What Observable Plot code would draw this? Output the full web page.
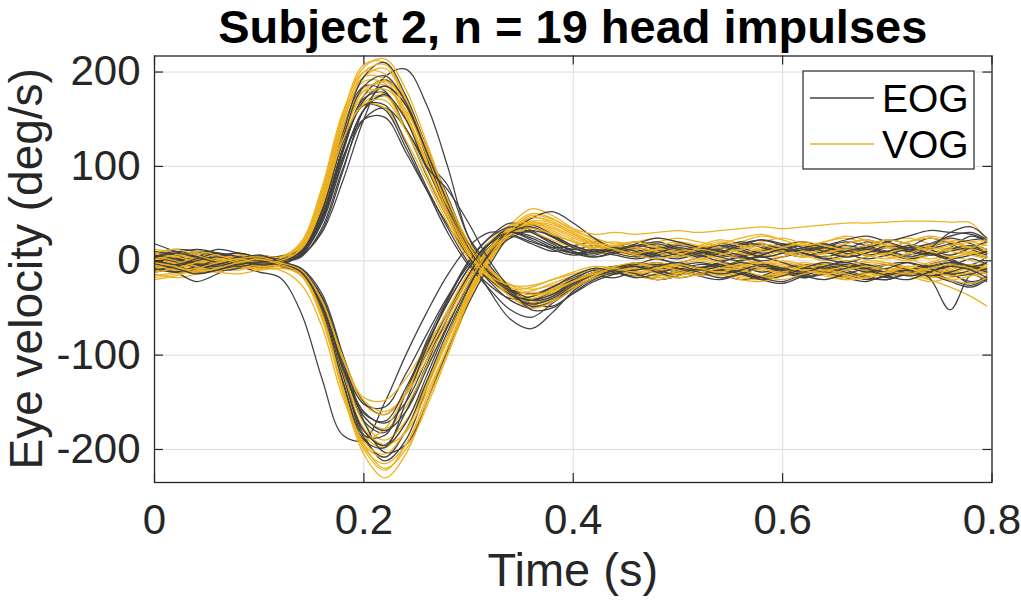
<!DOCTYPE html>
<html><head><meta charset="utf-8">
<script src="https://cdn.jsdelivr.net/npm/d3@7"></script>
<script src="https://cdn.jsdelivr.net/npm/@observablehq/plot@0.6"></script>
<style>
body{margin:0;background:#fff;}
#chart{width:1021px;height:605px;}
</style></head><body><div id="chart"></div>
<script>
// Time samples (s)
const time = [0,0.02,0.04,0.06,0.08,0.1,0.12,0.14,0.16,0.18,0.2,0.22,0.24,0.26,0.28,0.3,0.32,0.34,0.36,0.38,0.4,0.42,0.44,0.46,0.48,0.5,0.52,0.54,0.56,0.58,0.6,0.62,0.64,0.66,0.68,0.7,0.72,0.74,0.76,0.78,0.795];

// EOG, impulses giving positive eye velocity (deg/s)
const eogRightward = [
 [2,-4,-2,5,8,3,2, 6,30,85,150,195,203,165,100,25, -10,-32,-42,-35,-22,-12,-8, -12,-16,-10,-4,-6,-12,-18,-14,-6,-4,-10,-16,-20,-12,-8,-14,-22,-18],
 [-5,2,6,1,-4,-2,-2, 8,45,115,175,192,170,120,62,18, -12,-32,-45,-38,-24,-16,-18, -10,-4,-8,-16,-20,-14,-8,-10,-18,-12,-4,-6,-14,-10,-4,-12,-24,-16],
 [8,12,10,2,-2,6,3, 12,62,140,185,180,140,90,45,5, -22,-42,-50,-42,-28,-18,-10, -6,-2,-8,-14,-10,-4,-2,-8,-16,-12,-6,-10,-18,-14,-6,-2,-8,-4],
 [0,-6,-10,-8,-2,2,1, 10,50,120,172,178,140,105,80,25, -5,-30,-45,-48,-35,-22,-14, -8,-12,-6,-2,-6,-14,-18,-10,-4,-8,-16,-12,-4,-2,-10,-6,2,-4],
 [-12,-8,-2,2,-4,-6,-3, 6,40,105,160,175,150,100,52,12, -15,-30,-35,-28,-18,-10,-12, -16,-10,-4,-8,-14,-20,-16,-8,-6,-12,-18,-22,-14,-8,-12,-20,-26,-18],
 [5,0,4,12,8,-2,3, 9,48,118,165,160,120,75,30,-5, -30,-52,-60,-45,-28,-14,-6, -4,-10,-15,-10,-2,-6,-12,-8,-14,-10,-4,-8,-12,-10,-18,-52,-15,-22],
 [-3,4,8,6,-2,-8,-2, 4,35,98,150,162,140,98,55,15, -12,-30,-40,-36,-22,-12,-6, -14,-20,-16,-8,-4,-10,-18,-22,-14,-8,-12,-18,-20,-12,-6,-14,-10,-2],
 [10,6,-2,-4,4,2,-4, 8,44,110,150,152,115,75,38,5, -20,-35,-42,-32,-20,-10,-14, -8,-4,-10,-14,-8,-2,-6,-12,-18,-14,-8,-4,-10,-16,-12,-4,-8,-12],
 [-2,3,-3,-10,-8,2,5, 12,55,135,195,210,175,120,68,18, -10,-32,-42,-38,-24,-14,-8, -2,-6,-12,-8,-2,4,-2,-10,-14,-8,-4,-10,-16,-12,-4,0,-8,-14],
 [4,-1,-6,-2,3,0,0, 5,32,95,160,185,165,110,52,5, -32,-62,-72,-55,-32,-18,-10, -14,-20,-16,-8,-6,-12,-20,-24,-16,-10,-14,-20,-16,-10,-14,-22,-28,-20],
 [-8,-12,-6,0,-2,-6,-1, 10,46,118,170,185,165,115,60,14, -16,-36,-46,-40,-26,-14,-8, -4,2,-4,-10,-6,0,4,-2,-8,-6,0,-4,-10,-14,-8,-2,-6,-12],
 [6,2,-4,-6,0,4,2, 9,52,125,165,165,125,78,35,-2, -26,-40,-38,-28,-16,-8,-12, -18,-14,-8,-12,-18,-14,-6,-10,-16,-20,-14,-8,-4,-10,-16,-12,-6,-10],
 [-1,-4,2,8,4,-3,-1, 11,54,130,185,196,168,115,62,16, -14,-34,-48,-44,-30,-18,-10, -6,-12,-18,-14,-10,-14,-20,-16,-8,-2,-6,-12,-8,-2,-8,-16,-14,-8],
 [3,8,4,-2,-6,-2,1, 7,42,108,160,176,150,100,75,40, 0,-30,-52,-50,-34,-20,-12, -10,-6,-2,-8,-14,-10,-4,-8,-12,-6,-2,-8,-16,-20,-12,-6,-10,-18]
];

// EOG, impulses giving negative eye velocity (deg/s)
const eogLeftward = [
 [-5,-10,-8,-2,-6,-12,-18, -55,-125,-185,-190,-150,-100,-55,-15,15, 30,28,20,14,16,20,14, 8,12,18,14,8,6,12,18,14,8,12,20,16,10,14,20,12,6],
 [3,-2,-8,-6,2,-1,-4, -12,-50,-120,-185,-212,-190,-135,-80,-30, 10,32,38,28,16,10,14, 20,16,10,6,12,18,14,8,4,10,18,22,16,10,16,24,18,12],
 [-8,-3,5,8,2,-6,-3, -10,-45,-115,-180,-195,-160,-110,-60,-15, 18,35,30,20,12,16,10, 14,8,4,10,18,14,8,12,16,10,4,8,14,10,6,14,26,20],
 [18,10,3,-4,-8,-2,-2, -8,-40,-105,-170,-182,-140,-85,-40,0, 25,40,32,20,10,6,12, 8,14,10,4,8,14,18,12,6,10,16,12,8,14,24,18,8,4],
 [-2,4,10,8,0,-5,-6, -14,-48,-112,-160,-172,-150,-105,-60,-18, 12,28,35,25,14,8,10, 16,20,14,8,12,18,22,16,10,14,20,16,10,6,12,18,22,24],
 [-6,-12,-22,-14,-4,-8,-5, -10,-38,-100,-150,-163,-140,-98,-55,-15, 15,30,26,16,8,10,6, 2,6,10,6,0,4,10,14,8,2,6,12,8,2,6,12,16,8],
 [2,8,12,8,-2,0,-3, -8,-35,-100,-170,-203,-195,-150,-95,-45, -5,28,45,52,40,24,12, 6,10,16,12,6,4,10,16,20,14,10,14,20,26,32,30,28,22],
 [9,3,-4,-10,-6,2,0, -10,-52,-128,-185,-185,-140,-90,-45,-8, 20,30,22,12,6,10,16, 12,6,2,8,14,10,4,8,14,18,12,6,10,16,12,6,14,20],
 [-6,-12,-8,2,8,3,-4, -12,-44,-108,-152,-155,-120,-78,-38,-5, 18,26,18,10,12,8,12, 6,2,-2,4,10,6,0,4,10,14,8,2,6,12,8,0,-4,4],
 [0,-5,-12,-10,-2,4,-3, -11,-46,-118,-188,-208,-180,-128,-75,-28, 8,28,30,20,10,4,8, 14,18,12,8,14,20,16,10,14,18,12,16,22,18,14,30,36,24],
 [5,0,-6,-4,2,6,-1, -12,-55,-130,-190,-198,-150,-92,-42,-2, 24,36,30,18,8,4,10, 16,12,6,10,16,12,4,8,14,10,4,8,16,12,6,10,14,8],
 [-10,-6,0,4,0,-4,-5, -13,-47,-112,-165,-180,-160,-115,-68,-25, 6,24,32,26,16,10,14, 10,4,8,14,10,2,6,12,8,2,-2,4,10,14,8,2,6,10],
 [4,10,6,0,-4,0,-4, -12,-50,-122,-180,-196,-172,-122,-70,-24, 10,30,36,26,14,8,12, 18,24,20,14,10,16,22,18,12,16,22,26,20,14,18,26,30,22],
 [-3,-8,-14,-10,-4,-2,-4, -12,-48,-114,-162,-170,-135,-88,-45,-8, 18,30,24,14,8,12,8, 4,8,14,10,4,0,6,12,8,4,10,14,8,4,8,2,-6,-2]
];

// VOG, impulses giving positive eye velocity (deg/s)
const vogRightward = [
 [5,0,-4,-2,4,1,4, 18,75,155,208,210,165,110,55,10, -15,-32,-38,-30,-20,-14,-14, -8,-4,-8,-14,-10,-6,-10,-16,-12,-6,-4,-10,-14,-10,-6,-10,-14,-8],
 [-3,-8,-12,-8,-2,-4,2, 15,68,145,195,204,170,115,58,14, -12,-30,-36,-30,-22,-16,-10, -12,-16,-12,-6,-10,-16,-18,-12,-8,-12,-18,-14,-8,-12,-18,-14,-8,-12],
 [10,8,4,6,4,-2,3, 16,70,148,190,188,150,100,48,6, -18,-35,-40,-34,-24,-14,-8, -6,-10,-14,-10,-4,-6,-12,-8,-2,-6,-10,-6,-2,-8,-12,-8,-4,-8],
 [-16,-12,-6,-8,-4,0,-2, 12,60,138,183,186,155,105,55,10, -16,-38,-48,-42,-30,-18,-10, -6,-10,-14,-10,-6,-10,-16,-12,-8,-10,-16,-12,-8,-14,-20,-28,-38,-48],
 [2,-3,-6,-2,4,2,-1, 14,64,140,180,176,140,92,45,5, -20,-36,-32,-24,-16,-10,-6, -4,-8,-4,0,-4,-10,-6,-2,-6,-12,-8,-2,-4,-10,-8,-2,-6,-10],
 [-8,-6,0,2,-2,-6,-3, 10,52,125,168,175,150,104,55,12, -10,-25,-30,-26,-20,-14,-8, -14,-18,-14,-8,-12,-18,-20,-14,-10,-16,-20,-16,-12,-16,-22,-18,-14,-20],
 [-18,-14,-10,-12,-6,-2,0, 16,72,152,195,192,152,102,52,8, -14,-34,-44,-38,-26,-16,-10, -6,-2,-6,-10,-6,-2,-4,-8,-12,-8,-4,-6,-10,-14,-10,-6,-10,-4],
 [6,4,-2,0,6,3,1, 12,58,130,165,162,128,85,40,2, -18,-30,-28,-20,-14,-8,-10, -14,-10,-6,-10,-16,-12,-8,-4,-8,-14,-18,-14,-8,-10,-16,-20,-16,-12],
 [0,4,8,4,-2,1,3, 15,66,148,200,208,172,118,60,14, -14,-36,-46,-40,-28,-18,-10, -4,-8,-12,-16,-12,-6,-8,-14,-10,-4,-6,-12,-16,-12,-8,-12,-6,-14],
 [-6,-10,-14,-10,-4,-5,0, 12,56,130,180,190,168,120,66,20, -8,-26,-34,-30,-22,-14,-10, -16,-20,-16,-10,-14,-20,-22,-16,-10,-14,-20,-18,-12,-8,-14,-20,-24,-18],
 [12,8,2,-2,2,6,4, 20,78,158,200,198,158,105,52,8, -18,-34,-40,-32,-22,-12,-6, -2,-6,-2,2,-2,-8,-4,0,-4,-10,-6,0,-2,-6,-2,4,0,-4],
 [-10,-4,2,0,-6,-8,-2, 13,60,132,175,182,160,112,60,16, -10,-28,-36,-32,-22,-14,-8, -10,-6,-10,-14,-8,-4,-8,-12,-6,-2,-6,-10,-4,-8,-14,-10,-4,-8],
 [2,6,10,6,0,-2,2, 17,72,155,205,214,182,125,65,16, -16,-38,-50,-44,-30,-18,-12, -8,-14,-18,-14,-8,-10,-16,-20,-14,-10,-14,-18,-12,-6,-10,-16,-12,-6],
 [-4,-10,-8,-2,2,-2,0, 12,58,128,166,170,138,92,46,6, -16,-26,-26,-20,-12,-6,-8, -12,-8,-4,-8,-12,-6,-2,-6,-10,-14,-10,-6,-10,-14,-8,-4,-8,-14]
];

// VOG, impulses giving negative eye velocity (deg/s)
const vogLeftward = [
 [-14,-18,-14,-8,-10,-4,-6, -16,-62,-140,-205,-230,-205,-150,-92,-38, 5,35,50,45,32,24,18, 20,16,12,16,22,18,12,16,20,14,10,14,20,24,18,12,16,10],
 [-4,-8,-4,2,-3,-8,-5, -14,-55,-130,-195,-220,-200,-155,-100,-45, -2,30,45,42,30,20,14, 10,6,10,16,12,6,10,14,18,12,8,12,18,14,8,12,16,12],
 [6,2,-4,-8,-4,3,-2, -12,-58,-135,-195,-208,-180,-132,-82,-32, 8,38,55,48,34,22,14, 10,14,18,14,10,14,20,24,18,14,18,22,16,12,16,20,14,8],
 [-10,-6,0,-3,-8,-5,-6, -15,-56,-128,-185,-198,-172,-128,-80,-34, 4,30,40,36,26,18,20, 16,20,24,20,16,20,26,22,16,20,24,18,14,20,26,22,20,16],
 [0,5,2,-4,-1,-4,-4, -12,-50,-118,-172,-190,-170,-128,-82,-36, 0,25,38,34,24,16,10, 6,10,14,10,4,8,12,8,4,8,14,10,6,2,8,14,12,18],
 [-20,-16,-10,-12,-14,-10,-8, -14,-50,-115,-165,-178,-155,-112,-68,-24, 12,35,42,32,22,14,16, 12,8,4,8,14,10,6,4,10,16,12,6,8,14,10,4,8,10],
 [2,-2,-8,-6,0,-2,-3, -10,-44,-105,-152,-163,-140,-100,-60,-20, 12,30,35,28,20,12,8, 4,8,12,8,2,0,4,10,6,0,4,10,14,8,2,6,10,4],
 [-6,-10,-6,0,-4,-8,-10, -25,-70,-145,-188,-178,-140,-95,-52,-12, 20,38,40,30,20,14,16, 12,16,20,16,10,14,18,14,8,12,18,22,16,12,16,20,14,10],
 [8,4,0,2,6,1,-2, -13,-58,-138,-200,-222,-195,-145,-92,-40, 2,32,48,44,34,28,30, 28,30,32,30,32,34,36,34,36,38,40,40,41,42,42,41,40,20],
 [-8,-3,3,2,-5,-9,-6, -12,-45,-105,-145,-148,-125,-90,-55,-18, 14,32,30,22,14,8,10, 14,10,6,10,14,8,4,8,14,10,6,10,4,0,6,12,8,4],
 [4,0,-6,-10,-6,0,-3, -13,-56,-134,-198,-215,-195,-150,-98,-42, 0,28,42,40,30,20,16, 20,24,20,14,18,24,28,22,16,20,26,22,16,20,24,20,14,24],
 [-12,-8,-2,2,-2,-6,-5, -12,-50,-120,-178,-195,-182,-140,-92,-40, 2,28,40,38,28,18,12, 8,12,8,2,6,12,16,10,4,8,12,6,2,8,14,10,6,2],
 [8,12,6,0,2,4,-2, -10,-42,-102,-148,-160,-142,-105,-65,-24, 10,28,34,28,20,12,16, 20,14,10,14,20,16,10,14,20,16,12,16,22,18,12,16,20,22],
 [-2,-6,-12,-8,-2,2,-4, -14,-58,-136,-192,-205,-180,-135,-85,-36, 4,32,46,40,28,18,12, 6,2,6,12,8,2,-2,4,10,6,0,4,8,2,-4,2,8,4]
];

const xTicks = [0, 0.2, 0.4, 0.6, 0.8];
const yTicks = [-200, -100, 0, 100, 200];
const seriesNames = ["EOG", "VOG"];
const seriesColors = ["#404040", "#EDB120"];
const titleText = "Subject 2, n = 19 head impulses";
const xLabel = "Time (s)";
const yLabel = "Eye velocity (deg/s)";

// Long table, EOG and VOG traces interleaved per impulse
const rows = [];
for (let i = 0; i < eogRightward.length; i++) {
  const set = [
    ["EOG", eogRightward[i], "eR" + i], ["VOG", vogRightward[i], "vR" + i],
    ["EOG", eogLeftward[i], "eL" + i], ["VOG", vogLeftward[i], "vL" + i]
  ];
  for (const [m, vals, id] of set) vals.forEach((v, k) => rows.push({t: time[k], v, m, id}));
}

const W = 1021, H = 605, mL = 154, mR = 29.5, mT = 55.5, mB = 123;
const innerW = W - mL - mR, innerH = H - mT - mB;
const tk = 9;
const font = "'Liberation Sans', Arial, Helvetica, sans-serif";
const axisColor = "#262626";

const svg = Plot.plot({
  width: W, height: H,
  marginLeft: mL, marginRight: mR, marginTop: mT, marginBottom: mB,
  style: {fontFamily: font, fontSize: "42px", background: "#fff", color: axisColor, overflow: "visible"},
  x: {domain: [0, 0.8]},
  y: {domain: [-235, 217]},
  color: {domain: seriesNames, range: seriesColors},
  marks: [
    Plot.ruleX(xTicks, {x: d => d, stroke: "#dcdcdc", strokeWidth: 1}),
    Plot.ruleY(yTicks, {y: d => d, stroke: "#dcdcdc", strokeWidth: 1}),
    Plot.line(rows, {x: "t", y: "v", z: "id", stroke: "m", curve: "catmull-rom", strokeWidth: 1.25}),
    Plot.ruleY(yTicks, {y: d => d, insetRight: innerW - tk, stroke: axisColor, strokeWidth: 1.2}),
    Plot.ruleY(yTicks, {y: d => d, insetLeft: innerW - tk, stroke: axisColor, strokeWidth: 1.2}),
    Plot.ruleX(xTicks, {x: d => d, insetTop: innerH - tk, stroke: axisColor, strokeWidth: 1.2}),
    Plot.ruleX(xTicks, {x: d => d, insetBottom: innerH - tk, stroke: axisColor, strokeWidth: 1.2}),
    Plot.frame({stroke: axisColor, strokeWidth: 1.3}),
    Plot.axisX(xTicks, {tickSize: 0, tickPadding: 22, fontSize: 42, tickFormat: d => String(d), label: null, fill: axisColor}),
    Plot.axisY(yTicks, {tickSize: 0, tickPadding: 14, fontSize: 42, tickFormat: d => String(d), label: null, fill: axisColor})
  ]
});

const s = d3.select(svg);
const cx = mL + innerW / 2;
s.append("text").attr("x", cx).attr("y", 43).attr("text-anchor", "middle")
  .attr("font-family", font).attr("font-size", 47).attr("font-weight", "bold").attr("fill", "#000")
  .text(titleText);
s.append("text").attr("x", cx).attr("y", 586).attr("text-anchor", "middle")
  .attr("font-family", font).attr("font-size", 47).attr("fill", axisColor)
  .text(xLabel);
s.append("text").attr("transform", `translate(42,${mT + innerH / 2}) rotate(-90)`).attr("text-anchor", "middle")
  .attr("font-family", font).attr("font-size", 46).attr("fill", axisColor)
  .text(yLabel);

// Legend
const lg = s.append("g");
lg.append("rect").attr("x", 803).attr("y", 71).attr("width", 171).attr("height", 98)
  .attr("fill", "#fff").attr("stroke", axisColor).attr("stroke-width", 1.2);
seriesNames.forEach((name, i) => {
  const yy = 98 + i * 46;
  lg.append("line").attr("x1", 810).attr("x2", 874).attr("y1", yy).attr("y2", yy)
    .attr("stroke", seriesColors[i]).attr("stroke-width", 1.3);
  lg.append("text").attr("x", 882).attr("y", yy + 14).attr("text-anchor", "start").attr("font-family", font)
    .attr("font-size", 39).attr("fill", "#000").text(name);
});

document.getElementById("chart").appendChild(svg);
</script></body></html>
